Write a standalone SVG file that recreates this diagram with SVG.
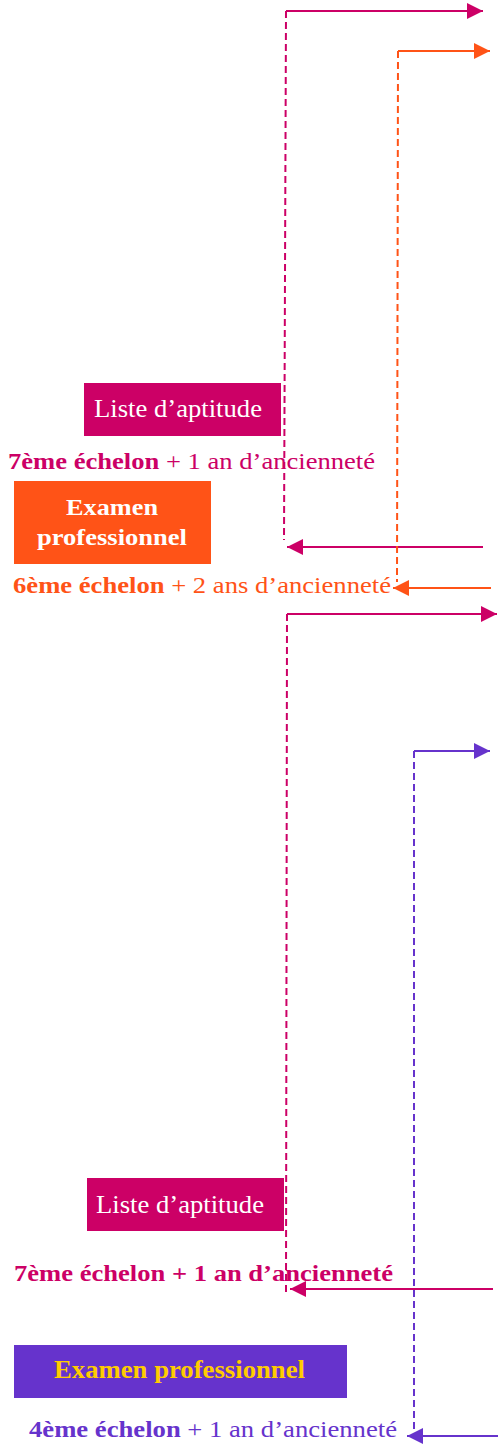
<svg xmlns="http://www.w3.org/2000/svg" width="498" height="1446" viewBox="0 0 498 1446">
<style>
text{font-family:"Liberation Serif","Times New Roman",Times,serif;font-size:24px}
.b{font-weight:bold}
.w{fill:#FFFFFF}
.m{fill:#CC0066}
.o{fill:#FF5317}
.p{fill:#6633CC}
.g{fill:#FFCC00}
.lg{font-size:26px}
.sm{font-size:23px}
.ln{fill:none;stroke-width:2}
.d{stroke-dasharray:7,4}
</style>
<defs>
<marker id="am" markerUnits="userSpaceOnUse" markerWidth="16" markerHeight="16" refX="16" refY="8" orient="auto"><path d="M0,0 L16,8 L0,16 z" fill="#CC0066"/></marker>
<marker id="ao" markerUnits="userSpaceOnUse" markerWidth="16" markerHeight="16" refX="16" refY="8" orient="auto"><path d="M0,0 L16,8 L0,16 z" fill="#FF5317"/></marker>
<marker id="ap" markerUnits="userSpaceOnUse" markerWidth="16" markerHeight="16" refX="16" refY="8" orient="auto"><path d="M0,0 L16,8 L0,16 z" fill="#6633CC"/></marker>
</defs>
<g id="connectors">
<path class="ln" stroke="#CC0066" d="M286,11 H483" marker-end="url(#am)"/>
<path class="ln d" stroke="#CC0066" d="M286,11 L284,540"/>
<path class="ln" stroke="#CC0066" d="M483,547 H287" marker-end="url(#am)"/>
<path class="ln" stroke="#FF5317" d="M398,51 H490" marker-end="url(#ao)"/>
<path class="ln d" stroke="#FF5317" d="M398,51 L397,582"/>
<path class="ln" stroke="#FF5317" d="M491,588 H393" marker-end="url(#ao)"/>
<path class="ln" stroke="#CC0066" d="M287,614 H497" marker-end="url(#am)"/>
<path class="ln d" stroke="#CC0066" d="M287,614 L286,1292"/>
<path class="ln" stroke="#CC0066" d="M493,1289 H290" marker-end="url(#am)"/>
<path class="ln" stroke="#6633CC" d="M414,751 H490" marker-end="url(#ap)"/>
<path class="ln d" stroke="#6633CC" d="M414,751 L414,1430"/>
<path class="ln" stroke="#6633CC" d="M498,1436 H407" marker-end="url(#ap)"/>
</g>
<g id="liste1">
<rect x="84" y="383" width="197" height="53" fill="#CC0066"/>
<text class="w lg" x="94" y="417" textLength="168" lengthAdjust="spacingAndGlyphs">Liste d’aptitude</text>
</g>
<g id="cond7a">
<text class="m" x="8" y="469" textLength="367" lengthAdjust="spacingAndGlyphs"><tspan class="b">7ème échelon</tspan> + 1 an d’ancienneté</text>
</g>
<g id="examen1">
<rect x="14" y="481" width="197" height="83" fill="#FF5317"/>
<text class="w b sm" x="66" y="515" textLength="92" lengthAdjust="spacingAndGlyphs">Examen</text>
<text class="w b sm" x="37" y="545" textLength="150" lengthAdjust="spacingAndGlyphs">professionnel</text>
</g>
<g id="cond6">
<text class="o" x="13" y="593" textLength="378" lengthAdjust="spacingAndGlyphs"><tspan class="b">6ème échelon</tspan> + 2 ans d’ancienneté</text>
</g>
<g id="liste2">
<rect x="87" y="1178" width="197" height="53" fill="#CC0066"/>
<text class="w lg" x="96" y="1213" textLength="168" lengthAdjust="spacingAndGlyphs">Liste d’aptitude</text>
</g>
<g id="cond7b">
<text class="m b" x="14" y="1281" textLength="379" lengthAdjust="spacingAndGlyphs">7ème échelon + 1 an d’ancienneté</text>
</g>
<g id="examen2">
<rect x="14" y="1345" width="333" height="53" fill="#6633CC"/>
<text class="g b" x="54" y="1378" style="font-size:25px" textLength="251" lengthAdjust="spacingAndGlyphs">Examen professionnel</text>
</g>
<g id="cond4">
<text class="p" x="29" y="1437" textLength="368" lengthAdjust="spacingAndGlyphs"><tspan class="b">4ème échelon</tspan> + 1 an d’ancienneté</text>
</g>
</svg>
